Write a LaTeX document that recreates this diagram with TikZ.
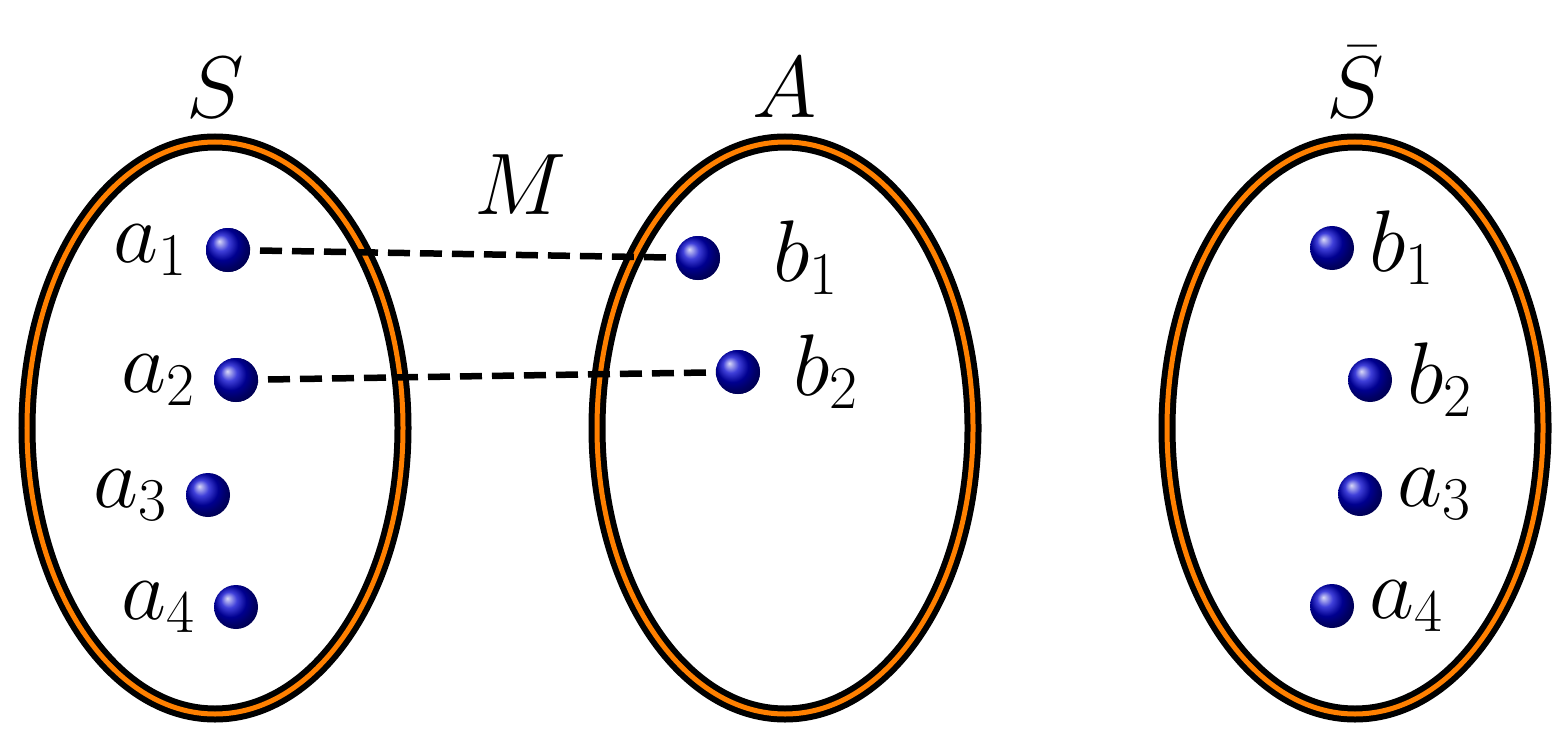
\documentclass[tikz,border=0pt]{standalone}
\usetikzlibrary{positioning}
\begin{document}
\begin{tikzpicture}[x=1cm,y=1cm,
  set/.style={draw=black,line width=0.06cm,double=orange,double distance=0.05cm},
  ball/.style={circle,inner sep=0pt,minimum size=0.44cm,ball color=blue!80!black},
  lab/.style={font=\fontsize{26}{30}\selectfont},
  big/.style={font=\fontsize{32}{36}\selectfont},
  match/.style={line width=0.065cm,dash pattern=on 0.22cm off 0.1cm}]
\useasboundingbox (0,0) rectangle (15.68,7.5);
\draw[set] (2.15,3.22) ellipse [x radius=1.88,y radius=2.86];
\draw[set] (7.85,3.22) ellipse [x radius=1.88,y radius=2.86];
\draw[set] (13.55,3.22) ellipse [x radius=1.88,y radius=2.86];
\node[big] (S) at (2.15,6.62) {$S$};
\node[big] (A) at (7.85,6.62) {$A$};
\node[big,inner sep=0pt] (Sb) at (13.55,6.68) {$\bar{S}$};
\node[lab] (M) at (5.2,5.65) {$M$};
\node[ball] (a1) at (2.28,5.0) {};
\node[ball] (a2) at (2.36,3.7) {};
\node[ball] (a3) at (2.08,2.55) {};
\node[ball] (a4) at (2.36,1.43) {};
\node[ball] (b1) at (6.98,4.92) {};
\node[ball] (b2) at (7.38,3.78) {};
\node[ball] (rb1) at (13.32,5.02) {};
\node[ball] (rb2) at (13.70,3.70) {};
\node[ball] (ra3) at (13.60,2.56) {};
\node[ball] (ra4) at (13.32,1.44) {};
\node[lab,left=0.05cm of a1] (la1) {$a_1$};
\node[lab,left=0.05cm of a2] (la2) {$a_2$};
\node[lab,left=0.05cm of a3] (la3) {$a_3$};
\node[lab,left=0.05cm of a4] (la4) {$a_4$};
\node[lab,right=0.4cm of b1] (lb1) {$b_1$};
\node[lab,right=0.2cm of b2] (lb2) {$b_2$};
\node[lab,right=0.02cm of rb1] (lrb1) {$b_1$};
\node[lab,right=0.02cm of rb2] (lrb2) {$b_2$};
\node[lab,right=0.02cm of ra3] (lra3) {$a_3$};
\node[lab,right=0.02cm of ra4] (lra4) {$a_4$};
\draw[match] (a1.center) -- (b1.center);
\draw[match] (a2.center) -- (b2.center);
\node[ball] at (a1) {};\node[ball] at (a2) {};\node[ball] at (b1) {};\node[ball] at (b2) {};
\end{tikzpicture}
\end{document}
